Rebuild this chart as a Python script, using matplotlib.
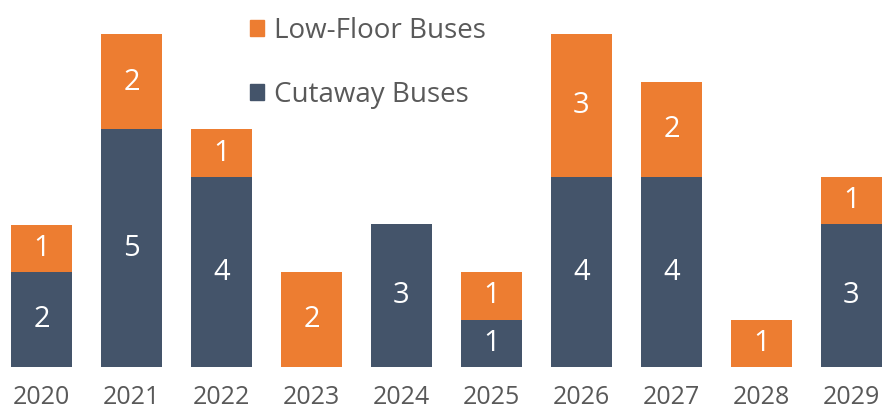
import numpy as np
import matplotlib.pyplot as plt
from matplotlib.patches import Patch

plt.rcParams['font.family'] = ['Open Sans', 'DejaVu Sans']

# Daten
years = ['2020', '2021', '2022', '2023', '2024', '2025', '2026', '2027', '2028', '2029']
cutaway = [2, 5, 4, 0, 3, 1, 4, 4, 0, 3]
low_floor = [1, 2, 1, 2, 0, 1, 3, 2, 1, 1]

col_cut = '#44546A'
col_low = '#ED7D31'

fig = plt.figure(figsize=(8.85, 4.11), dpi=100)
ax = fig.add_axes([0, 44 / 411, 1, 367 / 411])

x = np.arange(len(years))
cut = np.array(cutaway)
low = np.array(low_floor)

ax.bar(x, cut, width=0.675, color=col_cut)
ax.bar(x, low, width=0.675, bottom=cut, color=col_low)

# Beschriftungen in den Segmenten
for xi, c, l in zip(x, cut, low):
    if c > 0:
        ax.text(xi, c / 2, str(c), ha='center', va='center',
                color='white', fontsize=21)
    if l > 0:
        ax.text(xi, c + l / 2, str(l), ha='center', va='center',
                color='white', fontsize=21)

ax.set_xlim(-41.5 / 90, (885 - 41.5) / 90)
ax.set_ylim(0, 367 / 47.5)
ax.set_xticks(x)
ax.set_xticklabels(years, fontsize=18, color='#595959')
ax.tick_params(axis='x', length=0, pad=13)
ax.set_yticks([])
for s in ax.spines.values():
    s.set_visible(False)

handles = [Patch(color=col_low, label='Low-Floor Buses'),
           Patch(color=col_cut, label='Cutaway Buses')]
leg = fig.legend(handles=handles, loc='upper left', bbox_to_anchor=(247 / 885, 1 - 14 / 411),
                 frameon=False, fontsize=20, labelspacing=1.3,
                 handlelength=0.52, handleheight=0.52, handletextpad=0.35,
                 borderaxespad=0, borderpad=0.1)
for t in leg.get_texts():
    t.set_color('#595959')

fig.savefig('out.png', dpi=100)
